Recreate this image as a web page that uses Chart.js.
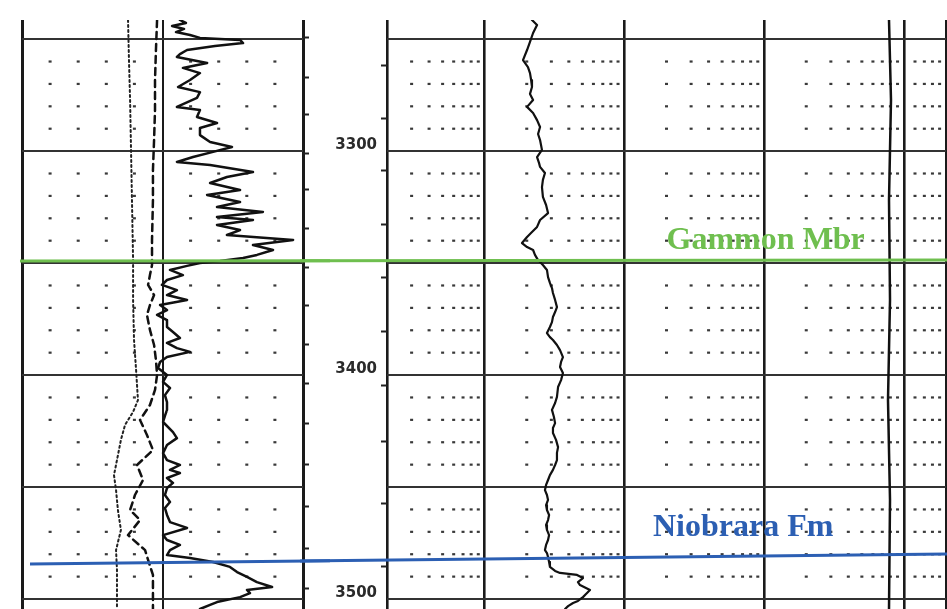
<!DOCTYPE html>
<html>
<head>
<meta charset="utf-8">
<script src="https://cdn.jsdelivr.net/npm/chart.js@4.4.1/dist/chart.umd.min.js"></script>
<style>
  html, body { margin: 0; padding: 0; background: #fff; }
  #wrap { position: relative; width: 947px; height: 609px; overflow: hidden; background: #fff; }
  canvas { position: absolute; top: 0; }
</style>
</head>
<body>
<div id="wrap">
  <canvas id="track1" width="330" height="609" style="left:0"></canvas>
  <canvas id="track2" width="647" height="609" style="left:300px"></canvas>
</div>
<script>
// ---- depth grid (ft) ----
const depthMin = 3241.5;
const depthMax = 3504.5;
const majorDepths = [3250, 3300, 3350, 3400, 3450, 3500];
const minorDepths = [3260, 3270, 3280, 3290, 3310, 3320, 3330, 3340, 3360, 3370, 3380, 3390,
                     3410, 3420, 3430, 3440, 3460, 3470, 3480, 3490];
const depthLabels = [3300, 3400, 3500];
const track1TickDepths = [3249.5, 3267.0, 3283.9, 3300.9, 3317.4, 3334.8, 3351.8, 3369.2, 3386.2,
                          3403.6, 3421.5, 3440.2, 3458.8, 3477.3, 3495.2];
const track2TickDepths = [3261.6, 3285.3, 3308.5, 3332.6, 3356.7, 3380.8, 3404.5, 3429.9, 3457.2, 3485.7];

// ---- track 1: gamma ray scale (API, linear) ----
const grLines = [0, 75, 150];
const grDivisions = [15, 30, 45, 60, 90, 105, 120, 135];

// ---- track 2: resistivity scale (ohm-m, logarithmic) ----
const resLines = [0.2, 1, 10, 100, 1000, 2000];
const resDivisions = [0.3, 0.4, 0.5, 0.6, 0.7, 0.8, 0.9,
                      2, 3, 4, 5, 6, 7, 8, 9,
                      20, 30, 40, 50, 60, 70, 80, 90,
                      200, 300, 400, 500, 600, 700, 800, 900,
                      1200, 1400, 1600, 1800];

// ---- gamma ray curve ----
const grDepth = [3241.5, 3242.8, 3244.2, 3245.5, 3246.9, 3248.2, 3249.5, 3250.4, 3251.8, 3253.1,
  3254.9, 3256.7, 3258.0, 3260.7, 3262.9, 3265.2, 3268.3, 3271.4, 3273.7, 3276.3,
  3280.3, 3281.7, 3284.8, 3287.5, 3289.7, 3292.9, 3296.0, 3298.2, 3300.4, 3302.7,
  3304.9, 3306.2, 3309.4, 3311.6, 3314.3, 3317.4, 3319.6, 3322.8, 3325.0, 3327.2,
  3329.5, 3330.8, 3333.0, 3335.3, 3337.5, 3339.7, 3342.0, 3344.2, 3346.4, 3347.8,
  3349.1, 3350.0, 3351.3, 3353.1, 3355.4, 3357.6, 3359.8, 3362.1, 3364.3, 3366.5,
  3368.8, 3371.0, 3373.2, 3375.5, 3378.6, 3380.8, 3383.5, 3385.7, 3388.0, 3389.7,
  3392.0, 3394.2, 3396.9, 3400.0, 3403.1, 3405.8, 3409.0, 3412.1, 3415.6, 3418.3,
  3421.0, 3425.5, 3428.2, 3431.3, 3434.9, 3438.0, 3440.2, 3442.4, 3443.8, 3446.0,
  3448.2, 3450.5, 3453.6, 3456.7, 3459.4, 3462.5, 3465.7, 3468.3, 3471.5, 3473.7,
  3475.9, 3478.2, 3480.4, 3481.7, 3483.5, 3485.7, 3488.0, 3490.2, 3492.5, 3494.7,
  3496.0, 3497.4, 3499.2, 3501.4, 3502.7, 3504.5];
const grValue = [84.3, 87.5, 80.1, 86.5, 82.2, 89.7, 95.0, 116.4, 118.0, 103.0,
  88.1, 84.3, 82.7, 98.8, 85.9, 95.0, 89.7, 83.3, 95.0, 93.4,
  82.7, 95.0, 93.4, 104.1, 95.0, 95.0, 100.4, 112.1, 102.0, 91.3,
  82.7, 100.4, 123.3, 109.4, 100.4, 116.4, 98.8, 116.4, 104.1, 128.6,
  104.1, 123.3, 104.1, 116.4, 109.4, 144.7, 123.3, 134.0, 125.4, 118.0,
  105.7, 95.0, 88.1, 79.0, 85.9, 77.4, 74.7, 82.7, 77.4, 88.1,
  73.7, 77.4, 72.1, 77.4, 77.4, 80.6, 84.3, 77.4, 82.7, 89.7,
  77.4, 73.7, 72.6, 77.4, 75.3, 79.0, 76.3, 77.4, 77.4, 76.3,
  75.3, 80.6, 82.7, 77.4, 75.3, 77.4, 84.3, 79.0, 84.3, 77.4,
  80.6, 77.4, 76.3, 79.0, 76.3, 77.4, 79.0, 88.1, 75.3, 77.4,
  84.3, 79.0, 77.4, 89.7, 102.0, 111.0, 114.8, 120.1, 125.4, 133.5,
  120.1, 121.7, 116.4, 104.1, 100.4, 95.0];

// ---- track 1 dashed curves (same scale) ----
const calDepth = [3241.5, 3259.4, 3277.2, 3299.5, 3321.9, 3348.7, 3366.5, 3384.4, 3397.8, 3411.2,
  3416.5, 3422.3, 3429.0, 3438.0, 3444.7, 3451.4, 3460.3, 3469.2, 3478.2, 3487.1, 3504.5];
const calValue = [56.6, 57.1, 57.7, 58.2, 58.7, 59.3, 59.3, 59.8, 60.9, 61.9,
  59.3, 55.0, 52.8, 50.7, 49.1, 50.2, 51.2, 52.8, 50.2, 50.7, 50.7];

const spDepth = [3241.5, 3254.9, 3268.3, 3281.7, 3295.1, 3308.5, 3321.9, 3339.7, 3350.9, 3355.4,
  3359.8, 3364.3, 3368.8, 3373.2, 3379.9, 3386.6, 3393.3, 3400.0, 3406.7, 3413.4,
  3420.1, 3426.8, 3433.5, 3440.2, 3446.9, 3453.6, 3460.3, 3464.8, 3471.5, 3478.2,
  3482.6, 3489.3, 3504.5];
const spValue = [72.1, 71.5, 71.0, 71.0, 70.5, 69.9, 69.9, 69.4, 69.4, 68.3,
  67.3, 70.5, 68.3, 66.7, 68.3, 70.5, 71.5, 72.1, 71.0, 68.3,
  63.0, 66.7, 69.9, 61.4, 64.6, 60.3, 57.7, 63.0, 56.6, 65.7,
  67.3, 69.9, 69.9];

// ---- track 2 resistivity curve ----
const resDepth = [3241.5, 3243.7, 3247.3, 3251.3, 3254.9, 3259.4, 3262.5, 3265.2, 3268.3, 3271.4,
  3274.5, 3277.2, 3280.3, 3283.0, 3286.2, 3289.3, 3292.4, 3295.1, 3299.5, 3302.7,
  3305.4, 3307.1, 3309.8, 3312.9, 3316.1, 3320.5, 3324.1, 3327.7, 3330.8, 3333.9,
  3336.2, 3338.4, 3341.1, 3342.9, 3344.2, 3346.4, 3348.7, 3350.9, 3353.1, 3356.3,
  3358.9, 3361.2, 3363.4, 3366.5, 3369.7, 3371.9, 3374.1, 3376.4, 3378.6, 3381.3,
  3383.1, 3384.4, 3386.6, 3388.9, 3392.0, 3394.2, 3396.4, 3399.1, 3402.3, 3405.4,
  3409.8, 3412.5, 3415.6, 3418.8, 3421.5, 3423.7, 3425.9, 3429.0, 3432.2, 3434.8,
  3438.0, 3440.2, 3442.4, 3444.7, 3446.9, 3449.1, 3451.4, 3453.6, 3455.8, 3458.1,
  3460.3, 3462.5, 3464.8, 3467.0, 3469.2, 3471.5, 3473.7, 3475.9, 3478.2, 3479.5,
  3481.3, 3483.5, 3485.7, 3487.5, 3488.4, 3489.3, 3490.7, 3492.5, 3493.8, 3496.0,
  3497.8, 3499.2, 3500.9, 3501.8, 3503.2, 3504.5];
const resValue = [2.18, 2.37, 2.22, 2.11, 2.01, 1.88, 2.04, 2.11, 2.15, 2.18,
  2.11, 2.22, 2.01, 2.22, 2.37, 2.49, 2.41, 2.49, 2.57, 2.37,
  2.45, 2.49, 2.70, 2.61, 2.57, 2.61, 2.75, 2.84, 2.49, 2.37,
  2.18, 2.01, 1.85, 2.01, 2.22, 2.29, 2.41, 2.61, 2.79, 2.84,
  2.93, 3.03, 3.08, 3.19, 3.29, 3.19, 3.08, 3.03, 2.93, 2.79,
  2.93, 3.08, 3.29, 3.46, 3.63, 3.52, 3.46, 3.63, 3.52, 3.35,
  3.29, 3.19, 3.03, 3.13, 3.19, 3.08, 3.08, 3.24, 3.35, 3.29,
  3.29, 3.19, 3.08, 2.93, 2.84, 2.75, 2.70, 2.79, 2.84, 2.75,
  2.79, 2.89, 2.84, 2.75, 2.79, 2.89, 2.84, 2.75, 2.70, 2.79,
  2.84, 2.89, 2.93, 3.19, 3.46, 4.58, 5.05, 4.65, 4.81, 5.67,
  5.31, 5.05, 4.65, 4.29, 3.95, 3.76];

// ---- track 2 deep curve (near full scale) ----
const deepDepth = [3241.5, 3277.2, 3321.9, 3366.5, 3411.2, 3455.8, 3504.5];
const deepValue = [782, 808, 782, 795, 769, 795, 782];

// ---- formation tops ----
const topNames = ['Gammon Mbr', 'Niobrara Fm'];
const topDepthWest = [3349.1, 3484.4];
const topDepthEast = [3348.7, 3479.9];
const topColors = ['#6fbf4f', '#2c5fb3'];

const pts = (depths, values) => depths.map((d, i) => ({ x: values[i], y: d }));

// dotted 10-ft rows, dots placed on the track's scale divisions
const dotGrid = {
  id: 'dotGrid',
  beforeDatasetsDraw(chart, args, opts) {
    const { ctx, scales: { x, y } } = chart;
    ctx.save();
    ctx.fillStyle = opts.color;
    for (const d of minorDepths) {
      const py = y.getPixelForValue(d);
      for (const v of opts.divisions) {
        const px = x.getPixelForValue(v);
        ctx.fillRect(px - 1.5, py - 1, 3, 2.2);
      }
    }
    ctx.restore();
  }
};

// formation-top lines spanning both tracks, plus their names
const formationTops = {
  id: 'formationTops',
  afterDatasetsDraw(chart, args, opts) {
    const { ctx, scales: { x, y } } = chart;
    const off = chart.canvas.offsetLeft;
    ctx.save();
    topNames.forEach((name, i) => {
      const [s0, s1] = opts.span[i];
      const depthAt = px => topDepthWest[i] + (topDepthEast[i] - topDepthWest[i]) * (px - s0) / (s1 - s0);
      const a = Math.max(s0, off);
      const b = Math.min(s1, off + chart.width);
      if (b <= a) return;
      ctx.strokeStyle = topColors[i];
      ctx.lineWidth = 3;
      ctx.beginPath();
      ctx.moveTo(a - off, y.getPixelForValue(depthAt(a)));
      ctx.lineTo(b - off, y.getPixelForValue(depthAt(b)));
      ctx.stroke();
      if (opts.labels) {
        const lb = opts.labels[i];
        ctx.fillStyle = topColors[i];
        ctx.font = 'bold 32px "Liberation Serif", "DejaVu Serif", serif';
        ctx.textAlign = 'left';
        ctx.textBaseline = 'alphabetic';
        ctx.fillText(name, x.getPixelForValue(lb.x), y.getPixelForValue(lb.depth));
      }
    });
    ctx.restore();
  }
};

// fixed-width depth axis with no label overhang padding
const fixWidth = w => s => { s.width = w; s.paddingTop = 0; s.paddingBottom = 0; };

const depthScale = extra => Object.assign({
  type: 'linear', min: depthMin, max: depthMax, reverse: true,
  ticks: { display: false },
  grid: { drawTicks: false },
  border: { display: false }
}, extra);

const common = {
  responsive: false,
  animation: false,
  devicePixelRatio: 1,
  events: [],
  elements: { point: { radius: 0 }, line: { tension: 0, borderJoinStyle: 'round', borderCapStyle: 'round' } }
};

// ---------- track 1 ----------
new Chart(document.getElementById('track1'), {
  type: 'line',
  data: {
    datasets: [
      { data: pts(calDepth, calValue), borderColor: '#222', borderWidth: 2, borderDash: [2, 3] },
      { data: pts(spDepth, spValue), borderColor: '#111', borderWidth: 2.5, borderDash: [7, 5] },
      { data: pts(grDepth, grValue), borderColor: '#111', borderWidth: 2.5 }
    ]
  },
  options: Object.assign({}, common, {
    layout: { padding: { left: 22, right: 21, top: 20, bottom: 0 } },
    plugins: {
      legend: { display: false }, tooltip: { enabled: false },
      dotGrid: { divisions: grDivisions, color: 'rgba(35,35,35,0.9)' },
      formationTops: { span: [[20, 947], [30, 947]] }
    },
    scales: {
      x: {
        type: 'linear', min: 0, max: 150, position: 'bottom',
        ticks: { display: false },
        grid: { drawTicks: false, color: '#1a1a1a', lineWidth: c => (c.tick && c.tick.value === 75 ? 2 : 3) },
        border: { display: false },
        afterBuildTicks: s => { s.ticks = grLines.map(v => ({ value: v })); }
      },
      y: depthScale({
        position: 'left',
        grid: { drawTicks: false, color: '#333', lineWidth: 2 },
        afterBuildTicks: s => { s.ticks = majorDepths.map(v => ({ value: v })); },
        afterFit: fixWidth(0)
      }),
      yTick: depthScale({
        position: 'right',
        grid: { drawOnChartArea: false, drawTicks: true, tickLength: 6, tickColor: '#222', tickWidth: 2 },
        afterBuildTicks: s => { s.ticks = track1TickDepths.map(v => ({ value: v })); },
        afterFit: fixWidth(6)
      })
    }
  }),
  plugins: [dotGrid, formationTops]
});

// ---------- track 2 (with depth column) ----------
new Chart(document.getElementById('track2'), {
  type: 'line',
  data: {
    datasets: [
      { data: pts(deepDepth, deepValue), borderColor: '#111', borderWidth: 2.5 },
      { data: pts(resDepth, resValue), borderColor: '#111', borderWidth: 2.2 }
    ]
  },
  options: Object.assign({}, common, {
    layout: { padding: { left: 0, right: 1, top: 20, bottom: 0 } },
    plugins: {
      legend: { display: false }, tooltip: { enabled: false },
      dotGrid: { divisions: resDivisions, color: 'rgba(35,35,35,0.9)' },
      formationTops: {
        span: [[20, 947], [30, 947]],
        labels: [{ x: 20, depth: 3343.8 }, { x: 16, depth: 3471.9 }]
      }
    },
    scales: {
      x: {
        type: 'logarithmic', min: 0.2, max: 2000, position: 'bottom',
        ticks: { display: false },
        grid: { drawTicks: false, color: '#1a1a1a', lineWidth: 2.6 },
        border: { display: false },
        afterBuildTicks: s => { s.ticks = resLines.map(v => ({ value: v })); },
        afterFit: s => { s.height = 0; s.paddingLeft = 0; s.paddingRight = 0; }
      },
      y: depthScale({
        position: 'left', weight: 1,
        ticks: {
          display: true, padding: 4, labelOffset: -6, color: '#2a2a2a',
          font: { family: 'DejaVu Sans', size: 15, weight: 'bold' },
          callback: v => (depthLabels.includes(v) ? String(v) : '')
        },
        grid: { drawTicks: false, color: '#333', lineWidth: 2 },
        afterBuildTicks: s => { s.ticks = majorDepths.map(v => ({ value: v })); },
        afterFit: fixWidth(81)
      }),
      yTick: depthScale({
        position: 'left', weight: 0,
        grid: { drawOnChartArea: false, drawTicks: true, tickLength: 6, tickColor: '#222', tickWidth: 2 },
        afterBuildTicks: s => { s.ticks = track2TickDepths.map(v => ({ value: v })); },
        afterFit: fixWidth(6)
      })
    }
  }),
  plugins: [dotGrid, formationTops]
});
</script>
</body>
</html>
